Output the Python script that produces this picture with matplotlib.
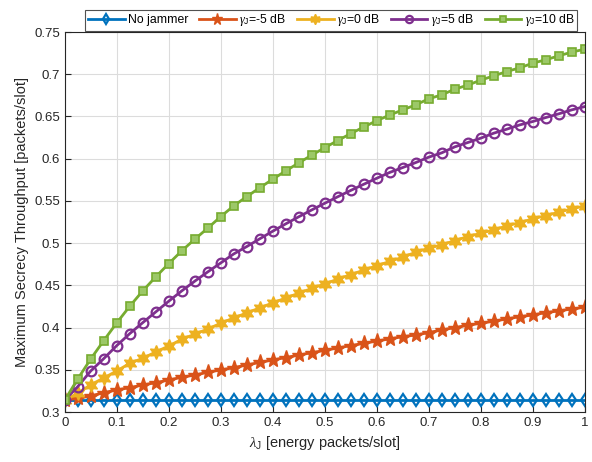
import numpy as np
import matplotlib
matplotlib.use("Agg")
import matplotlib.pyplot as plt

plt.rcParams['font.family'] = ['Liberation Sans', 'DejaVu Sans']
plt.rcParams['mathtext.fontset'] = 'custom'
plt.rcParams['mathtext.rm'] = 'Liberation Sans'
plt.rcParams['mathtext.it'] = 'Liberation Serif:italic'

# интенсивность поступления энергии джаммера
lam = np.round(np.arange(0, 1.0001, 0.025), 3)

no_jammer = [0.314, 0.314, 0.314, 0.314, 0.314, 0.314, 0.314, 0.314, 0.314, 0.314,
             0.314, 0.314, 0.314, 0.314, 0.314, 0.314, 0.314, 0.314, 0.314, 0.314,
             0.314, 0.314, 0.314, 0.314, 0.314, 0.314, 0.314, 0.314, 0.314, 0.314,
             0.314, 0.314, 0.314, 0.314, 0.314, 0.314, 0.314, 0.314, 0.314, 0.314,
             0.314]
g_m5 = [0.314, 0.3162, 0.319, 0.3229, 0.3261, 0.3288, 0.332, 0.3347, 0.3379, 0.3411,
        0.3438, 0.347, 0.3498, 0.3525, 0.3557, 0.3587, 0.3616, 0.3645, 0.3674, 0.3702,
        0.373, 0.3758, 0.3786, 0.3813, 0.384, 0.3866, 0.3892, 0.3912, 0.394, 0.3972,
        0.3999, 0.4027, 0.4051, 0.4075, 0.4102, 0.4129, 0.4149, 0.4177, 0.4197, 0.422,
        0.424]
g_0 = [0.314, 0.3222, 0.3323, 0.3403, 0.3486, 0.3577, 0.3636, 0.3711, 0.3782, 0.3861,
       0.3921, 0.3983, 0.4051, 0.4114, 0.4173, 0.4233, 0.4292, 0.435, 0.4407, 0.4463,
       0.4518, 0.4573, 0.4627, 0.468, 0.4732, 0.4783, 0.4833, 0.4892, 0.494, 0.4979,
       0.503, 0.5077, 0.5117, 0.5156, 0.5204, 0.5243, 0.5287, 0.5326, 0.5366, 0.5405,
       0.5441]
g_5 = [0.314, 0.330, 0.3486, 0.3632, 0.3786, 0.3928, 0.4058, 0.4185, 0.4312, 0.4434,
       0.4549, 0.4659, 0.4765, 0.4872, 0.4959, 0.5051, 0.5141, 0.5228, 0.5312, 0.5393,
       0.5472, 0.5549, 0.5624, 0.5697, 0.5768, 0.5837, 0.5895, 0.5954, 0.6018, 0.6069,
       0.614, 0.6191, 0.6243, 0.6302, 0.6349, 0.640, 0.644, 0.6487, 0.6531, 0.6578,
       0.6617]
g_10 = [0.314, 0.3391, 0.3628, 0.3845, 0.4055, 0.4252, 0.4434, 0.460, 0.4757, 0.4908,
        0.5046, 0.5177, 0.5314, 0.5441, 0.5551, 0.5655, 0.5757, 0.5855, 0.595, 0.6042,
        0.613, 0.6215, 0.6297, 0.6375, 0.645, 0.6517, 0.6578, 0.6637, 0.6709, 0.6756,
        0.6823, 0.6871, 0.693, 0.6981, 0.7032, 0.7076, 0.7131, 0.7171, 0.7218, 0.7262,
        0.7297]

labels = ['No jammer', r'$\gamma_\mathrm{J}$=-5 dB', r'$\gamma_\mathrm{J}$=0 dB',
          r'$\gamma_\mathrm{J}$=5 dB', r'$\gamma_\mathrm{J}$=10 dB']

fig = plt.figure(figsize=(5.92, 4.62), dpi=100)
ax = fig.add_axes([0.1093, 0.1082, 0.8784, 0.8225])

hexagram = (6, 1, 0)
ax.plot(lam, no_jammer, color='#0072BD', lw=2, marker='d', ms=6.5, mfc='none', mew=1.6, label=labels[0])
ax.plot(lam, g_m5, color='#D95319', lw=2, marker='*', ms=11, label=labels[1])
ax.plot(lam, g_0, color='#EDB120', lw=2, marker=hexagram, ms=10, label=labels[2])
ax.plot(lam, g_5, color='#7E2F8E', lw=2, marker='o', ms=7, mfc='none', mew=1.6, label=labels[3])
ax.plot(lam, g_10, color='#77AC30', lw=2, marker='s', ms=6, mfc='#9cc868', mec='#77AC30', mew=1.2, label=labels[4])

ax.set_xlim(0, 1)
ax.set_ylim(0.3, 0.75)
ax.set_xticks(np.arange(0, 1.01, 0.1))
ax.set_xticklabels(['0', '0.1', '0.2', '0.3', '0.4', '0.5', '0.6', '0.7', '0.8', '0.9', '1'])
ax.set_yticks(np.arange(0.3, 0.751, 0.05))
ax.set_yticklabels(['0.3', '0.35', '0.4', '0.45', '0.5', '0.55', '0.6', '0.65', '0.7', '0.75'])
ax.tick_params(direction='in', length=4, labelsize=9.5, colors='#262626')
ax.grid(True, color='#dcdcdc', lw=0.8)
ax.set_axisbelow(True)
for s in ax.spines.values():
    s.set_color('#262626')
    s.set_linewidth(0.8)

ax.set_xlabel(r'$\lambda_\mathrm{J}$ [energy packets/slot]', fontsize=10.5, color='#262626')
ax.set_ylabel('Maximum Secrecy Throughput [packets/slot]', fontsize=10.5, color='#262626')

leg = fig.legend(loc='upper right', bbox_to_anchor=(0.975, 0.979), ncol=5, fontsize=8.8,
                 frameon=True, fancybox=False, edgecolor='#262626', handlelength=3.0,
                 columnspacing=0.85, handletextpad=0.3, borderpad=0.2, borderaxespad=0,
                 markerscale=0.75)
leg.get_frame().set_linewidth(0.8)

fig.savefig('out.png', dpi=100)
